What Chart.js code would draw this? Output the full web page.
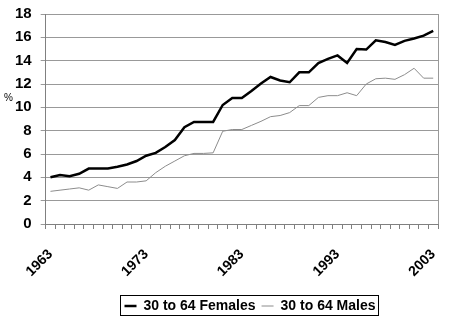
<!DOCTYPE html>
<html>
<head>
<meta charset="utf-8">
<script src="https://cdn.jsdelivr.net/npm/chart.js@4/dist/chart.umd.min.js"></script>
<style>
  html, body { margin: 0; padding: 0; background: #fff; }
</style>
</head>
<body>
<canvas id="rateChart" width="450" height="331"></canvas>
<script>
// years on the category axis
var years = ['1963','1964','1965','1966','1967','1968','1969','1970','1971','1972',
             '1973','1974','1975','1976','1977','1978','1979','1980','1981','1982',
             '1983','1984','1985','1986','1987','1988','1989','1990','1991','1992',
             '1993','1994','1995','1996','1997','1998','1999','2000','2001','2002','2003'];
var shownYears = ['1963','1973','1983','1993','2003'];

var females = [4.0, 4.2, 4.1, 4.3, 4.75, 4.75, 4.75, 4.9, 5.1, 5.4,
               5.85, 6.1, 6.6, 7.2, 8.3, 8.75, 8.75, 8.75, 10.2, 10.8,
               10.8, 11.4, 12.05, 12.6, 12.3, 12.15, 13.0, 13.0, 13.8, 14.15,
               14.45, 13.8, 15.0, 14.95, 15.75, 15.6, 15.35, 15.7, 15.9, 16.15, 16.55];
var males = [2.8, 2.9, 3.0, 3.1, 2.9, 3.35, 3.2, 3.05, 3.6, 3.6,
             3.7, 4.4, 4.95, 5.4, 5.85, 6.05, 6.05, 6.1, 7.95, 8.1,
             8.1, 8.45, 8.8, 9.2, 9.3, 9.55, 10.15, 10.15, 10.85, 11.0,
             11.0, 11.25, 11.0, 12.0, 12.45, 12.5, 12.4, 12.8, 13.35, 12.5, 12.5];

var seriesNames = ['30 to 64 Females', '30 to 64 Males'];

Chart.defaults.font.family = "'Liberation Sans', Arial, sans-serif";
Chart.defaults.color = '#000';

var legendShift = 28;

// "%" label, right frame line and the legend border
var extras = {
    id: 'extras',
    afterLayout: function(chart) {
        // legend sits a bit right of centre in the original
        var lg = chart.legend;
        lg.left += legendShift;
        lg.right += legendShift;
        lg.legendHitBoxes.forEach(function(b) { b.left += legendShift; });
    },
    afterDraw: function(chart) {
        var ctx = chart.ctx;
        var area = chart.chartArea;
        ctx.save();
        ctx.strokeStyle = '#999';
        ctx.lineWidth = 1;
        ctx.beginPath();
        ctx.moveTo(Math.round(area.right) + 0.5, area.top);
        ctx.lineTo(Math.round(area.right) + 0.5, area.bottom);
        ctx.stroke();

        ctx.fillStyle = '#000';
        ctx.font = "10px 'Liberation Sans', Arial, sans-serif";
        ctx.textBaseline = 'middle';
        ctx.fillText('%', 4, 98);

        var boxes = chart.legend.legendHitBoxes;
        if (boxes && boxes.length) {
            var first = boxes[0], last = boxes[boxes.length - 1];
            var x0 = Math.round(first.left) - 4.5;
            var x1 = Math.round(last.left + last.width) + 3.5;
            var y0 = Math.round(first.top) - 3.5;
            var y1 = Math.round(first.top + first.height) + 2.5;
            ctx.strokeStyle = '#000';
            ctx.strokeRect(x0, y0, x1 - x0, y1 - y0);
        }
        ctx.restore();
    }
};

var ctx = document.getElementById('rateChart').getContext('2d');
var chart = new Chart(ctx, {
    type: 'line',
    data: {
        labels: years,
        datasets: [{
                label: seriesNames[0],
                data: females,
                borderColor: '#000',
                backgroundColor: '#000',
                borderWidth: 2.5,
                pointRadius: 0,
                tension: 0
            },
            {
                label: seriesNames[1],
                data: males,
                borderColor: '#8c8c8c',
                backgroundColor: '#8c8c8c',
                borderWidth: 1,
                pointRadius: 0,
                tension: 0
            }
        ]
    },
    options: {
        responsive: false,
        animation: false,
        layout: { padding: { left: 6, right: 12, top: 14, bottom: 8 } },
        plugins: {
            tooltip: { enabled: false },
            legend: {
                position: 'bottom',
                labels: {
                    usePointStyle: true,
                    pointStyle: 'line',
                    pointStyleWidth: 12,
                    boxHeight: 10,
                    padding: 6,
                    color: '#000',
                    font: { size: 14, weight: 'bold' }
                }
            }
        },
        scales: {
            x: {
                offset: true,
                afterFit: function(scale) {
                    scale.height = 69;
                    scale.paddingRight = 0;
                    scale.paddingLeft = 0;
                },
                grid: {
                    offset: true,
                    drawOnChartArea: false,
                    drawTicks: true,
                    tickLength: 5,
                    color: '#808080'
                },
                border: { color: '#808080' },
                ticks: {
                    autoSkip: false,
                    minRotation: 45,
                    maxRotation: 45,
                    padding: 17,
                    font: { size: 14, weight: 'bold' },
                    callback: function(value, index) {
                        var y = years[index];
                        return shownYears.indexOf(y) >= 0 ? y : '';
                    }
                }
            },
            y: {
                min: 0,
                max: 18,
                afterFit: function(scale) {
                    scale.paddingTop = 0;
                    scale.paddingBottom = 0;
                },
                grid: { color: '#999', tickLength: 5 },
                border: { color: '#808080' },
                ticks: {
                    stepSize: 2,
                    autoSkip: false,
                    padding: 9,
                    font: { size: 15, weight: 'bold' }
                }
            }
        }
    },
    plugins: [extras]
});
</script>
</body>
</html>
